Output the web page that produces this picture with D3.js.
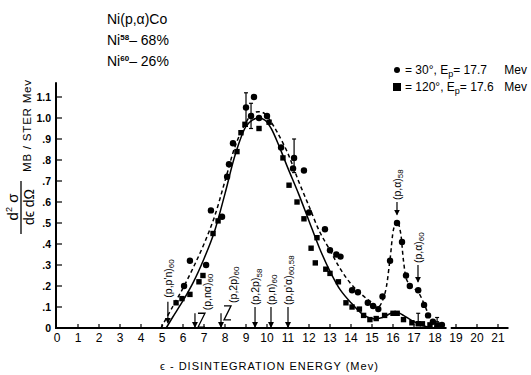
<!DOCTYPE html>
<html>
<head>
<meta charset="utf-8">
<script src="https://cdn.jsdelivr.net/npm/d3@7"></script>
<style>
  html, body { margin: 0; padding: 0; background: #fff; }
  svg { display: block; font-family: "Liberation Sans", Arial, sans-serif; }
</style>
</head>
<body>
<div id="chart"></div>
<script>
// Ni(p,alpha)Co spectrum, d2sigma/(de dOmega) vs disintegration energy

// x ticks (Mev) and y ticks (MB/STER Mev)
const xTicks = d3.range(0, 22);
const yTicks = [0, 0.1, 0.2, 0.3, 0.4, 0.5, 0.6, 0.7, 0.8, 0.9, 1.0, 1.1];
const yTickLabels = ["0", ".1", ".2", ".3", ".4", ".5", ".6", ".7", ".8", ".9", "1.0", "1.1"];

// fitted curve, 30 deg (dashed)
const curve30 = [
  [4.95, 0], [5.5, 0.10], [6.0, 0.19], [6.5, 0.29], [7.0, 0.40], [7.5, 0.53],
  [8.0, 0.70], [8.5, 0.87], [9.0, 0.98], [9.3, 1.02], [9.6, 1.03], [9.9, 1.02],
  [10.2, 0.98], [10.5, 0.93], [11.0, 0.83], [11.5, 0.70], [12.0, 0.58], [12.5, 0.46],
  [13.0, 0.37], [13.5, 0.28], [14.0, 0.21], [14.5, 0.16], [15.0, 0.12], [15.3, 0.10],
  [15.6, 0.16], [15.85, 0.32], [16.05, 0.48], [16.2, 0.51], [16.35, 0.46], [16.5, 0.32],
  [16.65, 0.23], [16.85, 0.20], [17.2, 0.17], [17.5, 0.11], [17.75, 0.05], [18.0, 0.01],
  [18.2, 0]
];

// fitted curve, 120 deg (solid)
const curve120 = [
  [5.2, 0], [5.5, 0.05], [6.0, 0.13], [6.5, 0.22], [7.0, 0.33], [7.5, 0.46],
  [8.0, 0.64], [8.5, 0.83], [9.0, 0.96], [9.3, 0.99], [9.6, 1.0], [9.9, 0.99],
  [10.2, 0.95], [10.6, 0.86], [11.0, 0.76], [11.5, 0.64], [12.0, 0.51], [12.5, 0.38],
  [13.0, 0.27], [13.5, 0.18], [14.0, 0.12], [14.5, 0.07], [15.0, 0.045], [15.5, 0.05],
  [15.9, 0.07], [16.2, 0.075], [16.5, 0.06], [16.9, 0.035], [17.4, 0.012], [17.9, 0]
];

// measured points, 30 deg (circles)
const points30 = [
  [6.05, 0.20], [6.33, 0.32], [7.1, 0.30], [7.33, 0.56], [7.86, 0.53], [8.1, 0.72],
  [8.19, 0.78], [8.38, 0.88], [9.0, 1.05], [9.24, 1.01], [9.38, 1.10], [9.62, 1.00],
  [10.0, 1.01], [10.67, 0.86], [11.24, 0.76], [11.29, 0.81], [11.76, 0.75], [12.0, 0.55],
  [12.76, 0.47], [13.0, 0.37], [13.3, 0.35], [13.5, 0.34], [14.05, 0.18], [14.33, 0.17],
  [14.8, 0.12], [15.05, 0.105], [15.3, 0.09], [15.5, 0.15], [15.86, 0.32], [16.19, 0.50],
  [16.43, 0.41], [16.62, 0.25], [16.8, 0.20], [17.2, 0.18], [17.48, 0.11], [17.67, 0.06],
  [17.9, 0.03], [18.33, 0.015]
];

// measured points, 120 deg (squares)
const points120 = [
  [5.67, 0.12], [5.95, 0.14], [6.33, 0.16], [6.76, 0.22], [6.95, 0.25], [7.43, 0.45],
  [7.67, 0.51], [8.57, 0.84], [8.76, 0.93], [8.95, 0.97], [9.62, 0.95], [10.1, 0.98],
  [10.76, 0.81], [11.05, 0.68], [11.43, 0.60], [11.76, 0.52], [12.1, 0.38], [12.3, 0.31],
  [12.38, 0.43], [12.8, 0.28], [13.0, 0.26], [13.4, 0.22], [13.76, 0.12], [14.05, 0.10],
  [14.4, 0.09], [14.6, 0.06], [14.9, 0.04], [15.2, 0.045], [15.6, 0.06], [16.0, 0.07],
  [16.2, 0.07], [16.5, 0.04], [16.9, 0.025], [17.2, 0.02], [17.4, 0.02], [17.76, 0.015],
  [18.1, 0.015]
];

// error bars: energy, low, high
const errorBars = [
  [9.0, 0.96, 1.12], [9.24, 0.95, 1.07], [11.29, 0.74, 0.90], [17.2, 0.03, 0.07], [18.1, 0.03, 0.05]
];

// reaction thresholds: text, subscript, energy, arrow top, arrow bottom, label start, zigzag
const reactions = [
  { text: "(p,p'n)", sub: "60", e: 5.28, top: 0.125, bottom: 0.025, label: 0.135, z: false },
  { text: "(p,nα)", sub: "60", e: 6.57, top: 0.07, bottom: 0.005, label: 0.075, z: true },
  { text: "(p,2p)", sub: "60", e: 7.81, top: 0.07, bottom: 0.005, label: 0.11, z: true },
  { text: "(p,2p)", sub: "58", e: 9.43, top: 0.10, bottom: 0.005, label: 0.10, z: false },
  { text: "(p,n)", sub: "60", e: 10.19, top: 0.10, bottom: 0.005, label: 0.10, z: false },
  { text: "(p,p'α)", sub: "60,58", e: 11.0, top: 0.10, bottom: 0.005, label: 0.10, z: false },
  { text: "(p,α)", sub: "58", e: 16.19, top: 0.60, bottom: 0.54, label: 0.60, z: false },
  { text: "(p,α)", sub: "60", e: 17.19, top: 0.30, bottom: 0.22, label: 0.30, z: false }
];

const width = 531, height = 375;
const x = d3.scaleLinear().domain([0, 21]).range([57, 498]);
const y = d3.scaleLinear().domain([0, 1]).range([328, 118]);

const svg = d3.select("#chart").append("svg")
  .attr("width", width)
  .attr("height", height)
  .attr("viewBox", [0, 0, width, height]);

svg.append("defs").append("marker")
  .attr("id", "head")
  .attr("viewBox", "0 0 6 6")
  .attr("refX", 5).attr("refY", 3)
  .attr("markerWidth", 5).attr("markerHeight", 5)
  .attr("orient", "auto")
  .append("path").attr("d", "M0,0L6,3L0,6Z").attr("fill", "#000");

// axes
const axes = svg.append("g").attr("stroke", "#000").attr("stroke-width", 2).attr("fill", "none");
axes.append("line").attr("x1", x(0) - 1).attr("x2", x(0) - 1).attr("y1", y(0) + 1).attr("y2", y(1.17));
axes.append("line").attr("x1", x(0) - 2).attr("x2", x(18.55)).attr("y1", y(0)).attr("y2", y(0));
axes.append("line").attr("x1", x(18.75)).attr("x2", x(21.5)).attr("y1", y(0)).attr("y2", y(0));

axes.selectAll(".xt").data(xTicks.slice(1)).join("line")
  .attr("stroke-width", 1.2)
  .attr("x1", d => x(d)).attr("x2", d => x(d))
  .attr("y1", y(0)).attr("y2", y(0) - 4);
axes.selectAll(".yt").data(yTicks.slice(1)).join("line")
  .attr("stroke-width", 1.2)
  .attr("x1", x(0)).attr("x2", x(0) + 5)
  .attr("y1", d => y(d)).attr("y2", d => y(d));

svg.append("g").attr("font-size", 12).attr("text-anchor", "middle")
  .selectAll("text").data(xTicks).join("text")
  .attr("x", d => x(d)).attr("y", y(0) + 14)
  .text(d => d);

svg.append("g").attr("font-size", 10.5).attr("font-weight", "bold").attr("text-anchor", "end")
  .selectAll("text").data(yTicks).join("text")
  .attr("x", x(0) - 6).attr("y", d => y(d) + 4)
  .text((d, i) => yTickLabels[i]);

// curves
const line = d3.line().x(d => x(d[0])).y(d => y(d[1])).curve(d3.curveCatmullRom.alpha(0.5));
svg.append("path").datum(curve30).attr("d", line)
  .attr("fill", "none").attr("stroke", "#000").attr("stroke-width", 1.5).attr("stroke-dasharray", "4,3");
svg.append("path").datum(curve120).attr("d", line)
  .attr("fill", "none").attr("stroke", "#000").attr("stroke-width", 1.5);

// error bars
const eb = svg.append("g").attr("stroke", "#000").attr("stroke-width", 1.2);
errorBars.forEach(([e, lo, hi]) => {
  eb.append("line").attr("x1", x(e)).attr("x2", x(e)).attr("y1", y(lo)).attr("y2", y(hi));
  eb.append("line").attr("x1", x(e) - 2).attr("x2", x(e) + 2).attr("y1", y(hi)).attr("y2", y(hi));
  eb.append("line").attr("x1", x(e) - 2).attr("x2", x(e) + 2).attr("y1", y(lo)).attr("y2", y(lo));
});

// points
svg.append("g").selectAll("circle").data(points30).join("circle")
  .attr("cx", d => x(d[0])).attr("cy", d => y(d[1])).attr("r", 3.2).attr("fill", "#000");
svg.append("g").selectAll("rect").data(points120).join("rect")
  .attr("x", d => x(d[0]) - 2.7).attr("y", d => y(d[1]) - 2.7)
  .attr("width", 5.4).attr("height", 5.4).attr("fill", "#000");

// reaction markers
const rg = svg.append("g").attr("font-size", 10.5);
reactions.forEach(r => {
  const ax = x(r.e);
  const lx = r.z ? ax + 12 : ax;
  rg.append("line")
    .attr("x1", ax).attr("x2", ax).attr("y1", y(r.top)).attr("y2", y(r.bottom))
    .attr("stroke", "#000").attr("stroke-width", 1.2).attr("marker-end", "url(#head)");
  if (r.z) {
    const t = y(r.label) + 1, b = y(r.label) + 15;
    rg.append("path")
      .attr("d", `M${ax + 3},${t}H${ax + 10}L${ax + 3},${b}H${ax + 10}`)
      .attr("fill", "none").attr("stroke", "#000").attr("stroke-width", 1.3);
  }
  const t = rg.append("text")
    .attr("transform", `translate(${lx},${y(r.label) - 2}) rotate(-90)`)
    .attr("dy", "0.35em");
  t.append("tspan").text(r.text);
  t.append("tspan").attr("dy", "0.35em").attr("font-size", 8).text(r.sub);
});

// top-left title block
const title = svg.append("g").attr("font-size", 14);
title.append("text").attr("x", 107).attr("y", 24).text("Ni(p,α)Co");
[["58", "68"], ["60", "26"]].forEach(([iso, pct], i) => {
  const t = title.append("text").attr("x", 107).attr("y", 45 + i * 21);
  t.append("tspan").text("Ni");
  t.append("tspan").attr("dy", -5).attr("font-size", 8).attr("font-weight", "bold").text(iso);
  t.append("tspan").attr("dy", 5).text("– " + pct + "%");
});

// legend
const legend = svg.append("g").attr("font-size", 12);
[["30°", "17.7"], ["120°", "17.6"]].forEach(([ang, ep], i) => {
  const yy = 74 + i * 17;
  if (i === 0) legend.append("circle").attr("cx", 397).attr("cy", yy - 4).attr("r", 3).attr("fill", "#000");
  else legend.append("rect").attr("x", 393).attr("y", yy - 8).attr("width", 8).attr("height", 8).attr("fill", "#000");
  const t = legend.append("text").attr("x", 405).attr("y", yy);
  t.append("tspan").text("= " + ang + ", E");
  t.append("tspan").attr("dy", 3).attr("font-size", 9).text("p");
  t.append("tspan").attr("dy", -3).text("= " + ep);
  legend.append("text").attr("x", 527).attr("y", yy).attr("text-anchor", "end").text("Mev");
});

// y-axis title
const yl = svg.append("g");
yl.append("text").attr("transform", "translate(31,172) rotate(-90)")
  .attr("font-size", 11.5).attr("letter-spacing", 0.8).text("MB / STER    Mev");
yl.append("text").attr("transform", "translate(18,207) rotate(-90)")
  .attr("font-size", 15).attr("text-anchor", "middle")
  .html('d<tspan dy="-6" font-size="9">2</tspan><tspan dy="6"> σ</tspan>');
yl.append("line").attr("x1", 21).attr("x2", 21).attr("y1", 181).attr("y2", 234)
  .attr("stroke", "#000").attr("stroke-width", 1.3);
yl.append("text").attr("transform", "translate(34,207) rotate(-90)")
  .attr("font-size", 14).attr("text-anchor", "middle").text("dϵ dΩ");

// x-axis title
svg.append("text").attr("x", 160).attr("y", 370)
  .attr("font-size", 11).attr("letter-spacing", 1)
  .text("ϵ - DISINTEGRATION  ENERGY  (Mev)");
</script>
</body>
</html>
